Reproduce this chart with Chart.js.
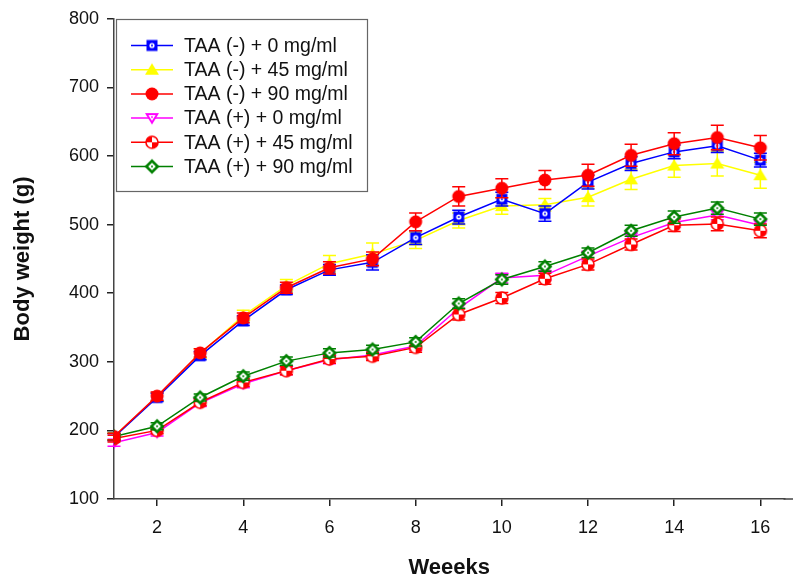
<!DOCTYPE html>
<html lang="en">

<head>
    <meta charset="UTF-8">
    <title>Body weight</title>
    <script src="https://cdn.jsdelivr.net/npm/chart.js@4.4.1/dist/chart.umd.min.js"></script>
    <style>
        body { margin: 0; background: #fff; }
        #wrap { width: 793px; height: 581px; }
    </style>
</head>

<body>
    <div id="wrap"><canvas id="myChart" width="793" height="581"></canvas></div>

    <script>
        // weeks and tick marks
        const weeks = [1, 2, 3, 4, 5, 6, 7, 8, 9, 10, 11, 12, 13, 14, 15, 16];
        const xTicks = [2, 4, 6, 8, 10, 12, 14, 16];
        const yTicks = [100, 200, 300, 400, 500, 600, 700, 800];

        const labels = ["TAA (-) + 0 mg/ml", "TAA (-) + 45 mg/ml", "TAA (-) + 90 mg/ml",
            "TAA (+) + 0 mg/ml", "TAA (+) + 45 mg/ml", "TAA (+) + 90 mg/ml"];

        // mean body weight (g)
        const neg0 = [190, 248, 309, 360, 405, 434, 445, 481, 511, 537, 516, 562, 589, 606, 615, 594];
        const neg45 = [191, 249, 312, 367, 411, 443, 457, 477, 506, 527, 529, 540, 566, 586, 589, 572];
        const neg90 = [191, 250, 313, 364, 408, 437, 450, 504, 541, 553, 565, 572, 601, 618, 627, 612];
        const pos0 = [182, 197, 240, 268, 287, 303, 310, 323, 378, 422, 426, 454, 481, 503, 514, 499];
        const pos45 = [188, 200, 241, 270, 287, 304, 308, 321, 369, 393, 421, 442, 471, 499, 501, 491];
        const pos90 = [191, 206, 248, 279, 301, 313, 318, 329, 385, 420, 439, 459, 491, 511, 524, 508];

        // standard errors
        const neg0Err = [5, 6, 6, 7, 7, 8, 11, 10, 10, 10, 11, 10, 10, 10, 10, 10];
        const neg45Err = [5, 6, 7, 8, 9, 12, 16, 12, 11, 12, 9, 13, 15, 17, 18, 19];
        const neg90Err = [5, 6, 6, 7, 8, 9, 10, 13, 14, 14, 14, 16, 16, 16, 18, 18];
        const pos0Err = [5, 5, 5, 6, 6, 6, 6, 6, 7, 7, 7, 7, 7, 7, 7, 7];
        const pos45Err = [5, 5, 5, 6, 6, 6, 6, 7, 8, 8, 8, 8, 8, 9, 10, 10];
        const pos90Err = [5, 5, 5, 6, 6, 6, 6, 6, 7, 7, 7, 7, 8, 9, 9, 9];

        const GREEN = "#008000";

        // small canvases used as point markers
        function marker(kind, color) {
            const c = document.createElement("canvas");
            c.width = 18; c.height = 18;
            const g = c.getContext("2d");
            const m = 9;
            g.fillStyle = color;
            g.strokeStyle = color;
            if (kind === "square") {
                g.fillRect(m - 5.5, m - 5.5, 11, 11);
                g.fillStyle = "#fff";
                g.beginPath(); g.arc(m, m, 2.6, 0, Math.PI * 2); g.fill();
                g.fillStyle = color;
                g.beginPath(); g.arc(m, m, 1, 0, Math.PI * 2); g.fill();
            } else if (kind === "triangle") {
                g.beginPath();
                g.moveTo(m, m - 6.5); g.lineTo(m + 7, m + 5); g.lineTo(m - 7, m + 5);
                g.closePath(); g.fill();
            } else if (kind === "circle") {
                g.beginPath(); g.arc(m, m, 6.5, 0, Math.PI * 2); g.fill();
            } else if (kind === "down") {
                g.beginPath();
                g.moveTo(m - 7, m - 5); g.lineTo(m + 7, m - 5); g.lineTo(m, m + 6.5);
                g.closePath(); g.fill();
                g.fillStyle = "#fff";
                g.beginPath();
                g.moveTo(m - 3.6, m - 3); g.lineTo(m + 3.6, m - 3); g.lineTo(m, m + 2.8);
                g.closePath(); g.fill();
                g.fillStyle = color;
                g.beginPath(); g.arc(m, m - 1, 0.9, 0, Math.PI * 2); g.fill();
            } else if (kind === "half") {
                g.fillStyle = "#fff";
                g.beginPath(); g.arc(m, m, 6, 0, Math.PI * 2); g.fill();
                g.fillStyle = color;
                g.beginPath(); g.moveTo(m, m); g.arc(m, m, 6, Math.PI, Math.PI * 1.5); g.closePath(); g.fill();
                g.beginPath(); g.moveTo(m, m); g.arc(m, m, 6, 0, Math.PI * 0.5); g.closePath(); g.fill();
                g.lineWidth = 1.6;
                g.beginPath(); g.arc(m, m, 6, 0, Math.PI * 2); g.stroke();
            } else if (kind === "diamond") {
                g.beginPath();
                g.moveTo(m, m - 7.5); g.lineTo(m + 7.5, m); g.lineTo(m, m + 7.5); g.lineTo(m - 7.5, m);
                g.closePath(); g.fill();
                g.fillStyle = "#fff";
                g.beginPath();
                g.moveTo(m, m - 3.8); g.lineTo(m + 3.8, m); g.lineTo(m, m + 3.8); g.lineTo(m - 3.8, m);
                g.closePath(); g.fill();
                g.fillStyle = color;
                g.beginPath(); g.arc(m, m, 1, 0, Math.PI * 2); g.fill();
            }
            return c;
        }

        function series(i, values, errors, color, kind, order) {
            return {
                label: labels[i],
                data: weeks.map((w, k) => ({ x: w, y: values[k] })),
                errors: errors,
                borderColor: color,
                backgroundColor: color,
                borderWidth: 1.5,
                pointStyle: marker(kind, color),
                pointRadius: 7,
                pointHoverRadius: 7,
                tension: 0,
                order: order
            };
        }

        // error bars for a dataset, drawn just under its line and markers
        const errorBars = {
            id: "errorBars",
            beforeDatasetDraw(chart, args) {
                const ds = chart.data.datasets[args.index];
                const ys = chart.scales.y, xs = chart.scales.x;
                const ctx = chart.ctx;
                ctx.save();
                ctx.strokeStyle = ds.borderColor;
                ctx.lineWidth = 1.5;
                ds.data.forEach((p, k) => {
                    const x = xs.getPixelForValue(p.x);
                    const top = ys.getPixelForValue(p.y + ds.errors[k]);
                    const bot = ys.getPixelForValue(p.y - ds.errors[k]);
                    ctx.beginPath();
                    ctx.moveTo(x, top); ctx.lineTo(x, bot);
                    ctx.moveTo(x - 6.5, top); ctx.lineTo(x + 6.5, top);
                    ctx.moveTo(x - 6.5, bot); ctx.lineTo(x + 6.5, bot);
                    ctx.stroke();
                });
                ctx.restore();
            }
        };

        // boxed legend in the upper left corner of the plot,
        // plus the bottom axis line carried on to the canvas edge
        const boxLegend = {
            id: "boxLegend",
            afterDraw(chart) {
                const ctx = chart.ctx;
                ctx.save();
                const ay = chart.scales.x.top;
                ctx.strokeStyle = "#444";
                ctx.lineWidth = 1.5;
                ctx.beginPath(); ctx.moveTo(chart.chartArea.right - 1, ay); ctx.lineTo(chart.width, ay); ctx.stroke();

                const L = 116.5, T = 19.5, W = 251, H = 172;
                ctx.fillStyle = "#fff";
                ctx.fillRect(L, T, W, H);
                ctx.strokeStyle = "#666";
                ctx.lineWidth = 1.2;
                ctx.strokeRect(L, T, W, H);
                ctx.font = "19.5px 'Liberation Sans', Arial, sans-serif";
                ctx.textBaseline = "middle";
                const rows = [0, 1, 2, 3, 4, 5].map(i => chart.data.datasets.find(d => d.label === labels[i]));
                rows.forEach((ds, i) => {
                    const y = 45.5 + i * 24.2;
                    ctx.strokeStyle = ds.borderColor;
                    ctx.lineWidth = 1.5;
                    ctx.beginPath(); ctx.moveTo(131, y); ctx.lineTo(173, y); ctx.stroke();
                    ctx.drawImage(ds.pointStyle, 152 - 9, y - 9);
                    ctx.fillStyle = "#111";
                    ctx.fillText(ds.label, 184, y + 1);
                });
                ctx.restore();
            }
        };

        const tickFont = { family: "'Liberation Sans', Arial, sans-serif", size: 18 };
        const titleFont = { family: "'Liberation Sans', Arial, sans-serif", size: 22, weight: "bold" };

        new Chart("myChart", {
            type: "line",
            data: {
                datasets: [
                    series(0, neg0, neg0Err, "#0000ff", "square", 4),
                    series(1, neg45, neg45Err, "#ffff00", "triangle", 5),
                    series(2, neg90, neg90Err, "#ff0000", "circle", 1),
                    series(3, pos0, pos0Err, "#ff00ff", "down", 6),
                    series(4, pos45, pos45Err, "#ff0000", "half", 3),
                    series(5, pos90, pos90Err, GREEN, "diamond", 2)
                ]
            },
            plugins: [errorBars, boxLegend],
            options: {
                responsive: false,
                animation: false,
                layout: { padding: { top: 18, right: 0, left: 0, bottom: 0 } },
                plugins: {
                    legend: { display: false },
                    tooltip: { enabled: false }
                },
                scales: {
                    x: {
                        type: "linear",
                        min: 1,
                        max: 16.56,
                        afterBuildTicks: s => { s.ticks = xTicks.map(v => ({ value: v })); },
                        afterFit: s => { s.height = 82; s.paddingLeft = 0; s.paddingRight = 0; },
                        border: { display: true, color: "#444", width: 1.5 },
                        grid: { drawOnChartArea: false, drawTicks: true, tickLength: 7, color: "#222", lineWidth: 1.5 },
                        ticks: { color: "#111", font: tickFont, padding: 11, maxRotation: 0 },
                        title: { display: true, text: "Weeeks", color: "#111", font: titleFont, padding: { top: 0, bottom: 0 } }
                    },
                    y: {
                        min: 100,
                        max: 800,
                        afterBuildTicks: s => { s.ticks = yTicks.map(v => ({ value: v })); },
                        afterFit: s => { s.width = 114; },
                        border: { display: true, color: "#444", width: 1.5 },
                        grid: { drawOnChartArea: false, drawTicks: true, tickLength: 7, color: "#222", lineWidth: 1.5 },
                        ticks: { color: "#111", font: tickFont, padding: 8 },
                        title: { display: true, text: "Body weight (g)", color: "#111", font: titleFont, padding: { top: 10, bottom: 0 } }
                    }
                }
            }
        });
    </script>

</body>

</html>
